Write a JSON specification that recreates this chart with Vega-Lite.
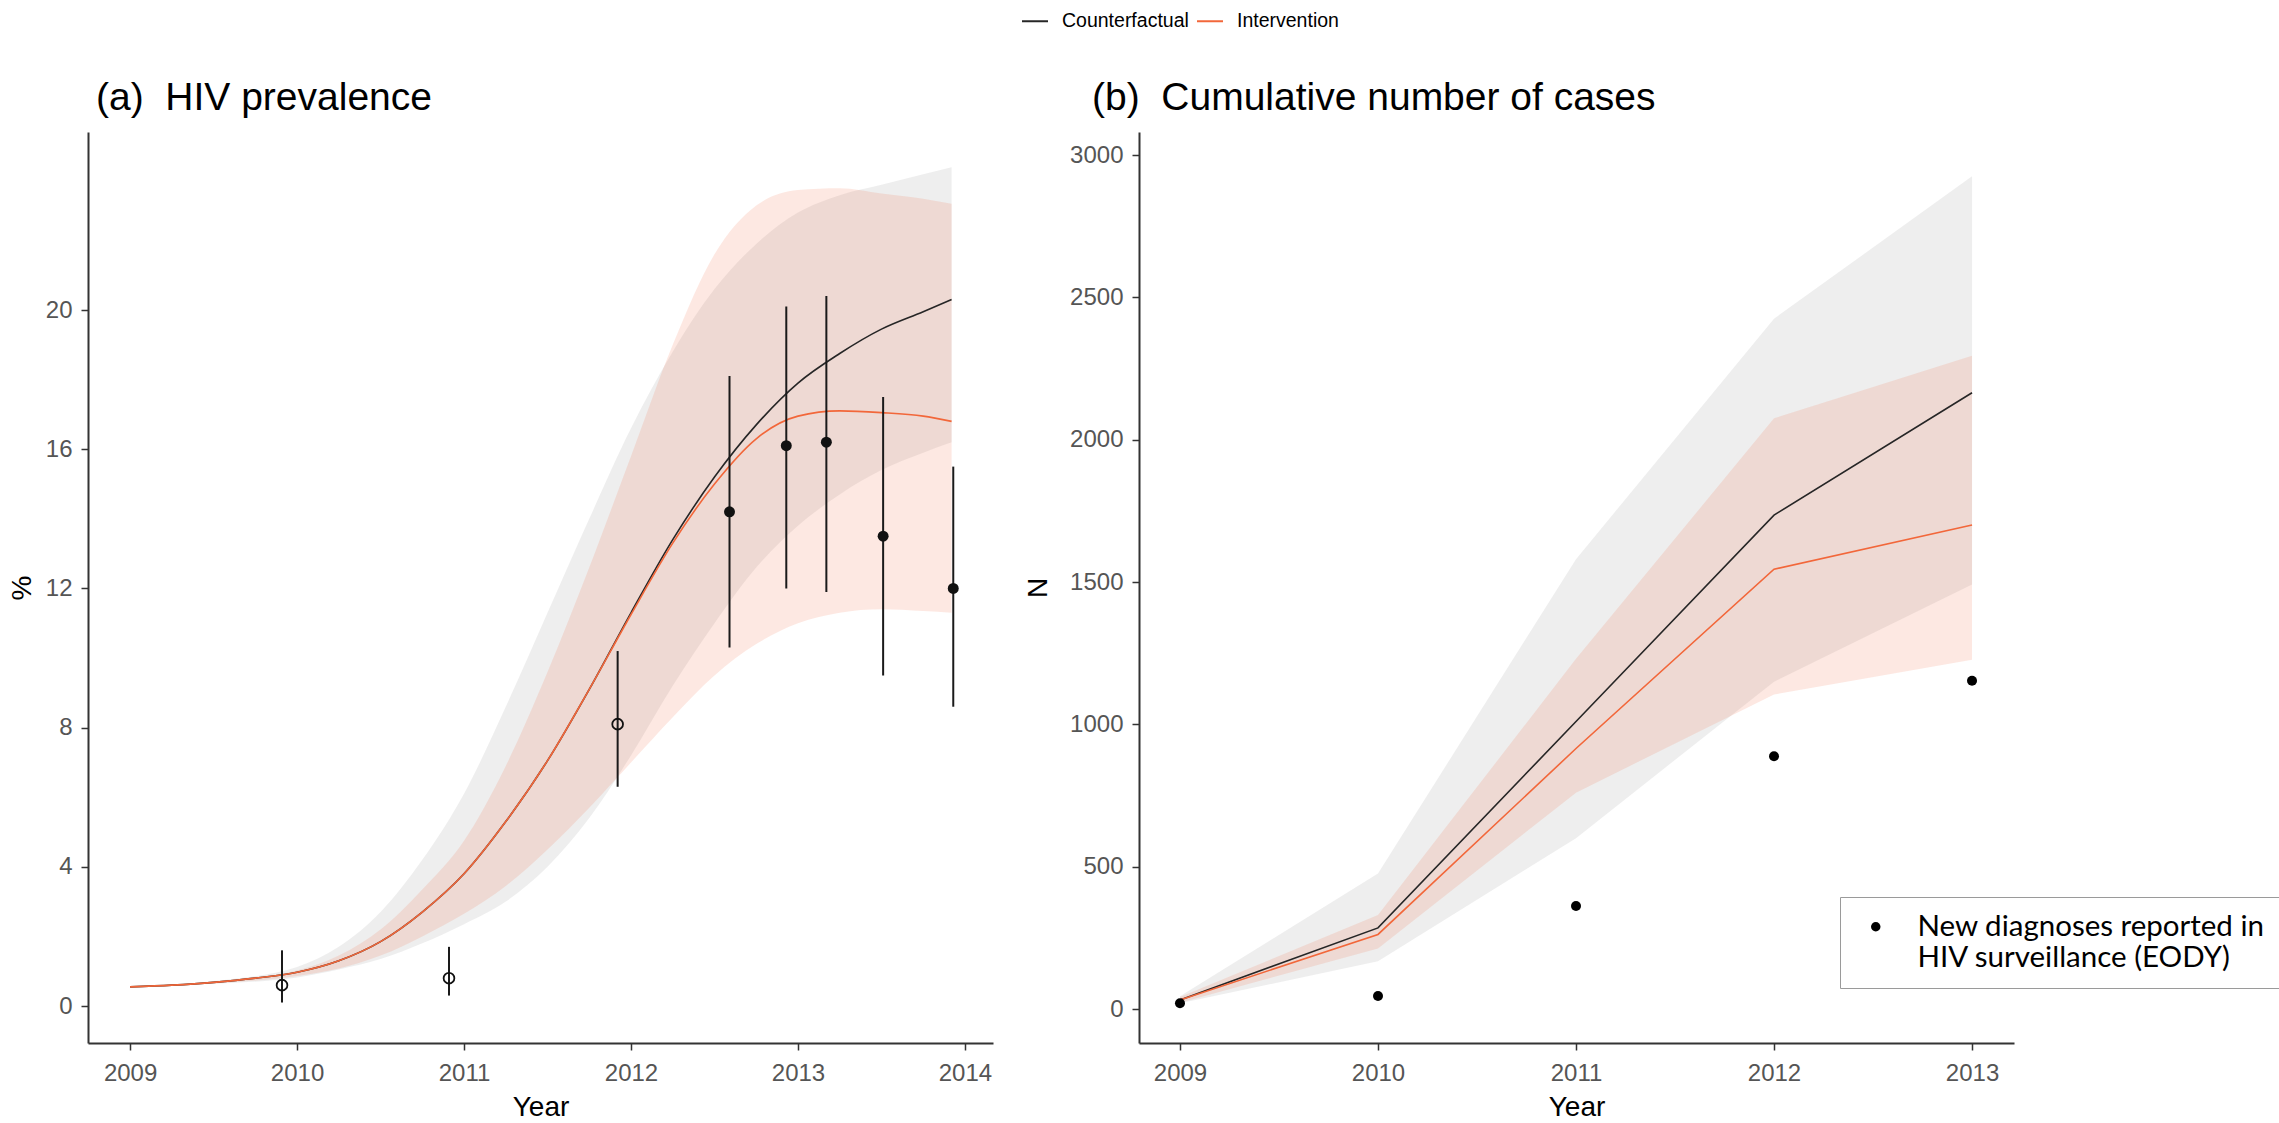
{
  "$schema": "https://vega.github.io/schema/vega-lite/v6.json",
  "background": "white",
  "padding": {"left": 8, "top": 7, "right": 0, "bottom": 0},
  "config": {
    "view": {"stroke": null},
    "font": "Liberation Sans",
    "axis": {
      "grid": false,
      "domainColor": "#333333",
      "domainWidth": 2,
      "tickColor": "#333333",
      "tickWidth": 1.5,
      "tickSize": 7,
      "labelFont": "Liberation Sans",
      "labelFontSize": 24,
      "labelColor": "#555555",
      "labelPadding": 9,
      "labelFlush": false,
      "labelOverlap": false,
      "titleFont": "Liberation Sans",
      "titleFontSize": 28,
      "titleFontWeight": "normal",
      "titleColor": "#000000"
    }
  },
  "datasets": {
    "prev_lines": [
      {"year": 2009.0, "scenario": "Counterfactual", "value": 0.55},
      {"year": 2009.25, "scenario": "Counterfactual", "value": 0.6},
      {"year": 2009.5, "scenario": "Counterfactual", "value": 0.68},
      {"year": 2009.75, "scenario": "Counterfactual", "value": 0.8},
      {"year": 2010.0, "scenario": "Counterfactual", "value": 0.97},
      {"year": 2010.25, "scenario": "Counterfactual", "value": 1.3},
      {"year": 2010.5, "scenario": "Counterfactual", "value": 1.85},
      {"year": 2010.75, "scenario": "Counterfactual", "value": 2.7},
      {"year": 2011.0, "scenario": "Counterfactual", "value": 3.8},
      {"year": 2011.25, "scenario": "Counterfactual", "value": 5.3},
      {"year": 2011.5, "scenario": "Counterfactual", "value": 7.05},
      {"year": 2011.75, "scenario": "Counterfactual", "value": 9.1},
      {"year": 2012.0, "scenario": "Counterfactual", "value": 11.3},
      {"year": 2012.25, "scenario": "Counterfactual", "value": 13.4},
      {"year": 2012.5, "scenario": "Counterfactual", "value": 15.2},
      {"year": 2012.75, "scenario": "Counterfactual", "value": 16.7},
      {"year": 2013.0, "scenario": "Counterfactual", "value": 17.9},
      {"year": 2013.25, "scenario": "Counterfactual", "value": 18.75},
      {"year": 2013.5, "scenario": "Counterfactual", "value": 19.45},
      {"year": 2013.75, "scenario": "Counterfactual", "value": 19.95},
      {"year": 2013.92, "scenario": "Counterfactual", "value": 20.3},
      {"year": 2009.0, "scenario": "Intervention", "value": 0.55},
      {"year": 2009.25, "scenario": "Intervention", "value": 0.6},
      {"year": 2009.5, "scenario": "Intervention", "value": 0.68},
      {"year": 2009.75, "scenario": "Intervention", "value": 0.8},
      {"year": 2010.0, "scenario": "Intervention", "value": 0.97},
      {"year": 2010.25, "scenario": "Intervention", "value": 1.3},
      {"year": 2010.5, "scenario": "Intervention", "value": 1.85},
      {"year": 2010.75, "scenario": "Intervention", "value": 2.7},
      {"year": 2011.0, "scenario": "Intervention", "value": 3.8},
      {"year": 2011.25, "scenario": "Intervention", "value": 5.3},
      {"year": 2011.5, "scenario": "Intervention", "value": 7.05},
      {"year": 2011.75, "scenario": "Intervention", "value": 9.1},
      {"year": 2012.0, "scenario": "Intervention", "value": 11.25},
      {"year": 2012.25, "scenario": "Intervention", "value": 13.3},
      {"year": 2012.5, "scenario": "Intervention", "value": 15.0},
      {"year": 2012.75, "scenario": "Intervention", "value": 16.3},
      {"year": 2013.0, "scenario": "Intervention", "value": 16.95},
      {"year": 2013.25, "scenario": "Intervention", "value": 17.1},
      {"year": 2013.5, "scenario": "Intervention", "value": 17.05},
      {"year": 2013.75, "scenario": "Intervention", "value": 16.95},
      {"year": 2013.92, "scenario": "Intervention", "value": 16.8}
    ],
    "prev_bands": [
      {"year": 2009.0, "scenario": "Counterfactual", "lo": 0.55, "hi": 0.55},
      {"year": 2009.5, "scenario": "Counterfactual", "lo": 0.64, "hi": 0.72},
      {"year": 2010.0, "scenario": "Counterfactual", "lo": 0.82, "hi": 1.12},
      {"year": 2010.25, "scenario": "Counterfactual", "lo": 1.05, "hi": 1.7},
      {"year": 2010.5, "scenario": "Counterfactual", "lo": 1.35, "hi": 2.7},
      {"year": 2010.75, "scenario": "Counterfactual", "lo": 1.8, "hi": 4.2},
      {"year": 2011.0, "scenario": "Counterfactual", "lo": 2.35, "hi": 6.1},
      {"year": 2011.25, "scenario": "Counterfactual", "lo": 3.0, "hi": 8.6},
      {"year": 2011.5, "scenario": "Counterfactual", "lo": 4.0, "hi": 11.3},
      {"year": 2011.75, "scenario": "Counterfactual", "lo": 5.4, "hi": 14.0},
      {"year": 2012.0, "scenario": "Counterfactual", "lo": 7.2, "hi": 16.6},
      {"year": 2012.25, "scenario": "Counterfactual", "lo": 9.2, "hi": 18.8},
      {"year": 2012.5, "scenario": "Counterfactual", "lo": 11.0, "hi": 20.6},
      {"year": 2012.75, "scenario": "Counterfactual", "lo": 12.6, "hi": 21.9},
      {"year": 2013.0, "scenario": "Counterfactual", "lo": 13.8, "hi": 22.8},
      {"year": 2013.25, "scenario": "Counterfactual", "lo": 14.7, "hi": 23.3},
      {"year": 2013.5, "scenario": "Counterfactual", "lo": 15.4, "hi": 23.6},
      {"year": 2013.75, "scenario": "Counterfactual", "lo": 15.9, "hi": 23.9},
      {"year": 2013.92, "scenario": "Counterfactual", "lo": 16.2, "hi": 24.1},
      {"year": 2009.0, "scenario": "Intervention", "lo": 0.55, "hi": 0.55},
      {"year": 2009.5, "scenario": "Intervention", "lo": 0.65, "hi": 0.7},
      {"year": 2010.0, "scenario": "Intervention", "lo": 0.86, "hi": 1.02},
      {"year": 2010.25, "scenario": "Intervention", "lo": 1.08, "hi": 1.45},
      {"year": 2010.5, "scenario": "Intervention", "lo": 1.45, "hi": 2.2},
      {"year": 2010.75, "scenario": "Intervention", "lo": 2.0, "hi": 3.35},
      {"year": 2011.0, "scenario": "Intervention", "lo": 2.65, "hi": 4.75},
      {"year": 2011.25, "scenario": "Intervention", "lo": 3.45, "hi": 6.9},
      {"year": 2011.5, "scenario": "Intervention", "lo": 4.5, "hi": 9.6},
      {"year": 2011.75, "scenario": "Intervention", "lo": 5.7, "hi": 12.6},
      {"year": 2012.0, "scenario": "Intervention", "lo": 7.0, "hi": 15.8},
      {"year": 2012.25, "scenario": "Intervention", "lo": 8.3, "hi": 19.0},
      {"year": 2012.5, "scenario": "Intervention", "lo": 9.5, "hi": 21.6},
      {"year": 2012.75, "scenario": "Intervention", "lo": 10.4, "hi": 23.0},
      {"year": 2013.0, "scenario": "Intervention", "lo": 11.0, "hi": 23.45},
      {"year": 2013.25, "scenario": "Intervention", "lo": 11.3, "hi": 23.5},
      {"year": 2013.5, "scenario": "Intervention", "lo": 11.4, "hi": 23.35},
      {"year": 2013.75, "scenario": "Intervention", "lo": 11.35, "hi": 23.2},
      {"year": 2013.92, "scenario": "Intervention", "lo": 11.3, "hi": 23.05}
    ],
    "prev_obs": [
      {"year": 2009.91, "value": 0.6, "lo": 0.1, "hi": 1.6, "kind": "open"},
      {"year": 2010.91, "value": 0.8, "lo": 0.3, "hi": 1.7, "kind": "open"},
      {"year": 2011.92, "value": 8.1, "lo": 6.3, "hi": 10.2, "kind": "open"},
      {"year": 2012.59, "value": 14.2, "lo": 10.3, "hi": 18.1, "kind": "filled"},
      {"year": 2012.93, "value": 16.1, "lo": 12.0, "hi": 20.1, "kind": "filled"},
      {"year": 2013.17, "value": 16.2, "lo": 11.9, "hi": 20.4, "kind": "filled"},
      {"year": 2013.51, "value": 13.5, "lo": 9.5, "hi": 17.5, "kind": "filled"},
      {"year": 2013.93, "value": 12.0, "lo": 8.6, "hi": 15.5, "kind": "filled"}
    ],
    "case_lines": [
      {"year": 2009, "scenario": "Counterfactual", "value": 32},
      {"year": 2010, "scenario": "Counterfactual", "value": 285},
      {"year": 2011, "scenario": "Counterfactual", "value": 1010},
      {"year": 2012, "scenario": "Counterfactual", "value": 1735},
      {"year": 2013, "scenario": "Counterfactual", "value": 2165},
      {"year": 2009, "scenario": "Intervention", "value": 32},
      {"year": 2010, "scenario": "Intervention", "value": 262},
      {"year": 2011, "scenario": "Intervention", "value": 915},
      {"year": 2012, "scenario": "Intervention", "value": 1545},
      {"year": 2013, "scenario": "Intervention", "value": 1700}
    ],
    "case_bands": [
      {"year": 2009, "scenario": "Counterfactual", "lo": 20, "hi": 45},
      {"year": 2010, "scenario": "Counterfactual", "lo": 168, "hi": 476},
      {"year": 2011, "scenario": "Counterfactual", "lo": 600, "hi": 1580},
      {"year": 2012, "scenario": "Counterfactual", "lo": 1150, "hi": 2425},
      {"year": 2013, "scenario": "Counterfactual", "lo": 1491, "hi": 2925},
      {"year": 2009, "scenario": "Intervention", "lo": 22, "hi": 42},
      {"year": 2010, "scenario": "Intervention", "lo": 213, "hi": 330},
      {"year": 2011, "scenario": "Intervention", "lo": 760, "hi": 1230},
      {"year": 2012, "scenario": "Intervention", "lo": 1105, "hi": 2075},
      {"year": 2013, "scenario": "Intervention", "lo": 1227, "hi": 2295}
    ],
    "case_obs": [
      {"year": 2009, "value": 20, "series": "New diagnoses"},
      {"year": 2010, "value": 46, "series": "New diagnoses"},
      {"year": 2011, "value": 362, "series": "New diagnoses"},
      {"year": 2012, "value": 888, "series": "New diagnoses"},
      {"year": 2013, "value": 1153, "series": "New diagnoses"}
    ]
  },
  "bounds": "flush",
  "spacing": 146,
  "hconcat": [
    {
      "width": 905,
      "height": 911,
      "title": {"text": "(a)\u00a0\u00a0HIV prevalence", "anchor": "start", "frame": "group", "dx": 8, "offset": 14, "fontSize": 39, "fontWeight": "normal", "font": "Liberation Sans", "color": "#000000"},
      "encoding": {
        "x": {
          "field": "year", "type": "quantitative",
          "scale": {"domain": [2008.748, 2014.168], "nice": false, "zero": false},
          "axis": {"title": "Year", "values": [2009, 2010, 2011, 2012, 2013, 2014], "format": "d", "labelPadding": 11, "titleY": 64, "titleBaseline": "middle"}
        }
      },
      "layer": [
        {
          "data": {"name": "prev_bands"},
          "transform": [{"filter": "datum.scenario === 'Counterfactual'"}],
          "mark": {"type": "area", "fill": "#9e9e9e", "opacity": 0.18, "interpolate": "monotone"},
          "encoding": {
            "y": {"field": "lo", "type": "quantitative", "title": "%",
              "scale": {"domain": [-1.063, 25.115], "nice": false, "zero": false},
              "axis": {"values": [0, 4, 8, 12, 16, 20], "format": "d", "titleX": -66, "titleY": 455.5, "titleBaseline": "middle", "titleAngle": -90}},
            "y2": {"field": "hi"}
          }
        },
        {
          "data": {"name": "prev_bands"},
          "transform": [{"filter": "datum.scenario === 'Intervention'"}],
          "mark": {"type": "area", "fill": "#f2673a", "opacity": 0.15, "interpolate": "monotone"},
          "encoding": {
            "y": {"field": "lo", "type": "quantitative", "title": "%"},
            "y2": {"field": "hi"}
          }
        },
        {
          "data": {"name": "prev_lines"},
          "mark": {"type": "line", "strokeWidth": 1.6, "interpolate": "monotone"},
          "encoding": {
            "y": {"field": "value", "type": "quantitative", "title": "%"},
            "color": {
              "field": "scenario", "type": "nominal",
              "scale": {"domain": ["Counterfactual", "Intervention"], "range": ["#262626", "#f2673a"]},
              "legend": {"title": null, "orient": "none", "legendX": 933, "legendY": -125, "direction": "horizontal", "symbolType": "stroke", "symbolStrokeWidth": 2, "symbolSize": 676, "labelFont": "Liberation Sans", "labelFontSize": 19.5, "labelColor": "#000000", "labelOffset": 13, "columnPadding": 4, "padding": 0}
            }
          }
        },
        {
          "data": {"name": "prev_obs"},
          "mark": {"type": "rule", "color": "#1a1a1a", "strokeWidth": 2},
          "encoding": {
            "y": {"field": "lo", "type": "quantitative", "title": "%"},
            "y2": {"field": "hi"}
          }
        },
        {
          "data": {"name": "prev_obs"},
          "transform": [{"filter": "datum.kind === 'open'"}],
          "mark": {"type": "point", "shape": "circle", "filled": false, "stroke": "#111111", "strokeWidth": 1.8, "size": 115, "opacity": 1},
          "encoding": {
            "y": {"field": "value", "type": "quantitative", "title": "%"}
          }
        },
        {
          "data": {"name": "prev_obs"},
          "transform": [{"filter": "datum.kind === 'filled'"}],
          "mark": {"type": "point", "shape": "circle", "filled": true, "color": "#111111", "size": 120, "opacity": 1},
          "encoding": {
            "y": {"field": "value", "type": "quantitative", "title": "%"}
          }
        }
      ]
    },
    {
      "width": 875,
      "height": 911,
      "title": {"text": "(b)\u00a0\u00a0Cumulative number of cases", "anchor": "start", "frame": "group", "dx": -47, "offset": 14, "fontSize": 39, "fontWeight": "normal", "font": "Liberation Sans", "color": "#000000"},
      "encoding": {
        "x": {
          "field": "year", "type": "quantitative",
          "scale": {"domain": [2008.793, 2013.212], "nice": false, "zero": false},
          "axis": {"title": "Year", "values": [2009, 2010, 2011, 2012, 2013], "format": "d", "labelPadding": 11, "titleY": 64, "titleBaseline": "middle"}
        }
      },
      "layer": [
        {
          "data": {"name": "case_bands"},
          "transform": [{"filter": "datum.scenario === 'Counterfactual'"}],
          "mark": {"type": "area", "fill": "#9e9e9e", "opacity": 0.18},
          "encoding": {
            "y": {"field": "lo", "type": "quantitative", "title": "N",
              "scale": {"domain": [-119.4, 3080.8], "nice": false, "zero": false},
              "axis": {"values": [0, 500, 1000, 1500, 2000, 2500, 3000], "format": "d", "titleX": -101, "titleY": 455.5, "titleBaseline": "middle", "titleAngle": -90}},
            "y2": {"field": "hi"}
          }
        },
        {
          "data": {"name": "case_bands"},
          "transform": [{"filter": "datum.scenario === 'Intervention'"}],
          "mark": {"type": "area", "fill": "#f2673a", "opacity": 0.15},
          "encoding": {
            "y": {"field": "lo", "type": "quantitative", "title": "N"},
            "y2": {"field": "hi"}
          }
        },
        {
          "data": {"name": "case_lines"},
          "mark": {"type": "line", "strokeWidth": 1.6},
          "encoding": {
            "y": {"field": "value", "type": "quantitative", "title": "N"},
            "color": {
              "field": "scenario", "type": "nominal",
              "scale": {"domain": ["Counterfactual", "Intervention"], "range": ["#262626", "#f2673a"]},
              "legend": {"title": null, "orient": "none", "legendX": 933, "legendY": -125, "direction": "horizontal", "symbolType": "stroke", "symbolStrokeWidth": 2, "symbolSize": 676, "labelFont": "Liberation Sans", "labelFontSize": 19.5, "labelColor": "#000000", "labelOffset": 13, "columnPadding": 4, "padding": 0}
            }
          }
        },
        {
          "data": {"name": "case_obs"},
          "mark": {"type": "point", "filled": true, "color": "#000000", "size": 100, "opacity": 1},
          "encoding": {
            "y": {"field": "value", "type": "quantitative", "title": "N"},
            "shape": {
              "field": "series", "type": "nominal",
              "scale": {"domain": ["New diagnoses"], "range": ["circle"]},
              "legend": {
                "title": null, "orient": "none", "legendX": 1752, "legendY": 765,
                "labelExpr": "['New diagnoses reported in', 'HIV surveillance (EODY)']",
                "labelFont": "Lato", "labelFontSize": 29.5, "labelColor": "#000000", "labelLimit": 0,
                "labelOffset": 27, "symbolOffset": 6, "symbolSize": 90,
                "symbolFillColor": "#000000", "symbolStrokeColor": "#000000", "symbolType": "circle",
                "padding": 15, "strokeColor": "#9a9a9a",
                "encode": {
                  "legend": {"strokeDash": {"value": [7, 4]}, "strokeWidth": {"value": 2}},
                  "labels": {"lineHeight": {"value": 38}}
                }
              }
            }
          }
        }
      ]
    }
  ]
}
